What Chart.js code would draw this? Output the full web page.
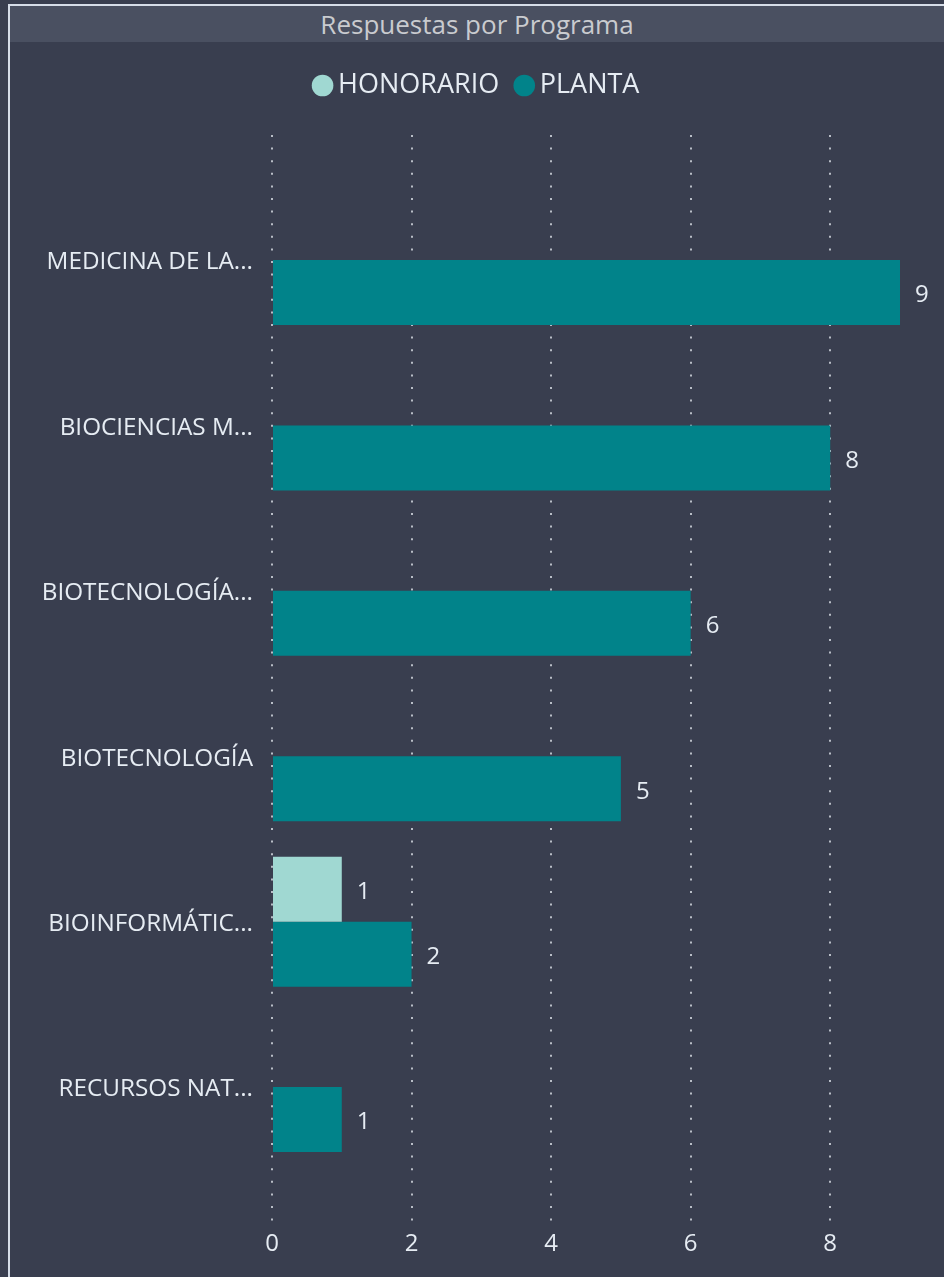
<!DOCTYPE html>
<html>
<head>
<meta charset="utf-8">
<script src="https://cdn.jsdelivr.net/npm/chart.js@4.4.1/dist/chart.umd.min.js"></script>
<style>
  html, body { margin: 0; padding: 0; }
  body { width: 944px; height: 1277px; overflow: hidden; background: #393e4f; font-family: 'Segoe UI', 'Open Sans', sans-serif; }
  .frame { position: absolute; left: 8px; top: 4px; width: 1000px; height: 1320px; border-left: 2px solid #d6dde8; border-top: 2px solid #d6dde8; }
  .title-band { position: absolute; left: 10px; top: 6px; width: 934px; height: 36px; background: #4a5061; color: #c9cbcf; font-size: 26px; line-height: 37px; text-align: center; }
  .chart-box { position: absolute; left: 10px; top: 42px; width: 934px; height: 1235px; }
</style>
</head>
<body>
<div class="frame"></div>
<div class="title-band">Respuestas por Programa</div>
<div class="chart-box"><canvas id="chart"></canvas></div>
<script>
  const categories = ['MEDICINA DE LA...', 'BIOCIENCIAS M...', 'BIOTECNOLOGÍA...', 'BIOTECNOLOGÍA', 'BIOINFORMÁTIC...', 'RECURSOS NAT...'];
  const honorario = [null, null, null, null, 1, null];
  const planta = [9, 8, 6, 5, 2, 1];
  const xTicks = [0, 2, 4, 6, 8];

  const textColor = '#e6ecf3';
  const fontFamily = "'Segoe UI', 'Open Sans', sans-serif";

  // Power BI leaves extra space between the legend and the plot
  const legendGap = {
    id: 'legendGap',
    beforeInit(chart) {
      const fit = chart.legend.fit;
      chart.legend.fit = function () {
        fit.call(this);
        this.height += 26;
      };
    },
    // let the category labels run into the left padding instead of being clipped
    afterLayout(chart) {
      chart.scales.y.left = 0;
    }
  };

  const valueLabels = {
    id: 'valueLabels',
    afterDatasetsDraw(chart) {
      const ctx = chart.ctx;
      ctx.save();
      ctx.font = `24px ${fontFamily}`;
      ctx.fillStyle = textColor;
      ctx.textAlign = 'left';
      ctx.textBaseline = 'middle';
      chart.data.datasets.forEach((ds, di) => {
        const meta = chart.getDatasetMeta(di);
        meta.data.forEach((bar, i) => {
          const v = ds.data[i].x;
          if (v === null) return;
          ctx.fillText(v, bar.x + 15, bar.y + 3);
        });
      });
      ctx.restore();
    }
  };

  new Chart(document.getElementById('chart'), {
    type: 'bar',
    data: {
      datasets: [
        {
          label: 'HONORARIO',
          data: honorario.map((v, i) => ({ x: v, y: i })),
          backgroundColor: '#a0d8d2'
        },
        {
          label: 'PLANTA',
          data: planta.map((v, i) => ({ x: v, y: i })),
          backgroundColor: '#01838a'
        }
      ]
    },
    options: {
      indexAxis: 'y',
      responsive: true,
      maintainAspectRatio: false,
      animation: false,
      categoryPercentage: 0.786,
      barPercentage: 1,
      layout: { padding: { top: 7, right: 44, left: 50, bottom: 0 } },
      plugins: {
        title: { display: false },
        tooltip: { enabled: false },
        legend: {
          position: 'top',
          labels: {
            usePointStyle: true,
            pointStyle: 'circle',
            boxWidth: 4,
            boxHeight: 15.3,
            padding: 23,
            color: textColor,
            font: { family: fontFamily, size: 27 }
          }
        }
      },
      scales: {
        x: {
          type: 'linear',
          min: 0,
          max: 9,
          afterFit(scale) { scale.height = 55; },
          afterBuildTicks(scale) { scale.ticks = xTicks.map(v => ({ value: v })); },
          border: { display: false, dash: [2, 10.6] },
          grid: {
            color: 'rgba(200, 204, 212, 0.9)',
            lineWidth: 2,
            drawTicks: false
          },
          ticks: {
            color: textColor,
            padding: 8,
            font: { family: fontFamily, size: 24 }
          }
        },
        y: {
          type: 'linear',
          reverse: true,
          offset: false,
          min: -0.756,
          max: 5.816,
          afterFit(scale) { scale.width = 212; },
          border: { display: false },
          grid: { display: false, drawTicks: false, offset: false },
          ticks: {
            stepSize: 1,
            includeBounds: false,
            autoSkip: false,
            padding: 19,
            labelOffset: 2.5,
            color: textColor,
            font: { family: fontFamily, size: 24.3 },
            callback: (v) => categories[v]
          }
        }
      }
    },
    plugins: [legendGap, valueLabels]
  });
</script>
</body>
</html>
